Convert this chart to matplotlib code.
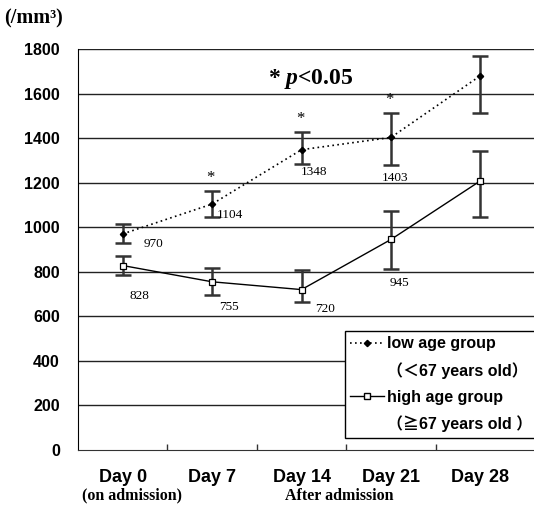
import numpy as np
import matplotlib.pyplot as plt
from matplotlib.lines import Line2D

plt.rcParams['mathtext.fontset'] = 'custom'
plt.rcParams['mathtext.it'] = 'Liberation Serif:bold:italic'
plt.rcParams['mathtext.rm'] = 'Liberation Serif:bold'

days = ['Day 0', 'Day 7', 'Day 14', 'Day 21', 'Day 28']
low_mean = [970, 1104, 1348, 1403, 1680]
low_err_lo = [42, 60, 65, 124, 168]
low_err_hi = [45, 57, 79, 108, 90]
high_mean = [828, 755, 720, 945, 1208]
high_err_lo = [43, 57, 54, 131, 160]
high_err_hi = [43, 60, 90, 130, 132]
low_labels = ['970', '1104', '1348', '1403', '']
high_labels = ['828', '755', '720', '945', '']
sig_days = [1, 2, 3]

x = np.arange(len(days))

fig = plt.figure(figsize=(5.34, 5.16), dpi=100)
ax = fig.add_axes([78 / 534, 1 - 450 / 516, 456 / 534, 401 / 516])

ax.set_ylim(0, 1800)
ax.set_xlim(-0.5, 4.6)
ax.set_yticks(range(0, 1801, 200))
for v in range(200, 1801, 200):
    ax.axhline(v, color='#222222', lw=1.0, zorder=1)

ax.errorbar(x, low_mean, yerr=[low_err_lo, low_err_hi], fmt='none', ecolor='#333333',
            elinewidth=1.8, capsize=6, capthick=1.8, zorder=2)
ax.errorbar(x, high_mean, yerr=[high_err_lo, high_err_hi], fmt='none', ecolor='#333333',
            elinewidth=1.8, capsize=6, capthick=1.8, zorder=2)
ax.plot(x, low_mean, color='black', ls=(0, (1, 2)), lw=1.2, marker='D', ms=3.2,
        mfc='black', mec='black', zorder=3)
ax.plot(x, high_mean, color='black', ls='-', lw=1.0, marker='s', ms=4.5,
        mfc='white', mec='black', mew=0.9, zorder=3)

# value labels (offsets in points)
low_off = [(22, -7), (13, -8), (9, -16), (3, -29), (0, 0)]
high_off = [(12, -22), (12, -18), (17, -14), (6, -31), (0, 0)]
for i in range(len(days)):
    if low_labels[i]:
        ax.annotate(low_labels[i], (x[i], low_mean[i]), xytext=low_off[i],
                    textcoords='offset points', ha='center', va='center',
                    fontsize=9.5, family='Liberation Serif')
    if high_labels[i]:
        ax.annotate(high_labels[i], (x[i], high_mean[i]), xytext=high_off[i],
                    textcoords='offset points', ha='center', va='center',
                    fontsize=9.5, family='Liberation Serif')
for i in sig_days:
    ax.annotate('*', (x[i], low_mean[i] + low_err_hi[i]), xytext=(-1, 4),
                textcoords='offset points', ha='center', va='bottom',
                fontsize=12, family='Liberation Serif')

ax.text(0.51, 0.925, '* $p$<0.05', transform=ax.transAxes, ha='center', va='center',
        fontsize=17, family='Liberation Serif', weight='bold')

ax.set_xticks(x)
ax.set_xticklabels(days, family='Liberation Sans', weight='bold', fontsize=13)
ax.set_xticks(x[:-1] + 0.5, minor=True)
ax.tick_params(axis='x', which='major', length=0, pad=14)
ax.tick_params(axis='x', which='minor', direction='in', length=4, width=1, color='#333333')
ax.tick_params(axis='y', length=0, pad=13)
for t in ax.get_yticklabels():
    t.set_family('Liberation Sans')
    t.set_weight('bold')
    t.set_fontsize(11.5)

for s in ['top', 'right']:
    ax.spines[s].set_visible(False)
ax.spines['left'].set_color('black')
ax.spines['bottom'].set_color('#333333')

fig.text(4 / 534, 1 - 18 / 516, '(/mm³)', ha='left', va='center', fontsize=14.5,
         family='Liberation Serif', weight='bold')
fig.text(132 / 534, 1 - 495 / 516, '(on admission)', ha='center', va='center',
         fontsize=11.5, family='Liberation Serif', weight='bold')
fig.text(339 / 534, 1 - 496 / 516, 'After admission', ha='center', va='center',
         fontsize=11.5, family='Liberation Serif', weight='bold')

blank = Line2D([], [], ls='none')
h_low = Line2D([], [], color='black', ls=(0, (1, 2)), lw=1.2, marker='D', ms=3.2, mfc='black')
h_high = Line2D([], [], color='black', ls='-', lw=1.0, marker='s', ms=4.5, mfc='white')
leg = ax.legend([h_low, blank, h_high, blank],
                ['low age group', '（＜67 years old）', 'high age group', '（≧67 years old ）'],
                loc='lower left', bbox_to_anchor=(0.585, 0.03),
                frameon=True, fancybox=False, edgecolor='black',
                framealpha=1, handlelength=2.1, handletextpad=0.2, borderpad=0.35,
                borderaxespad=0, labelspacing=0.68,
                prop={'family': ['Liberation Sans', 'Noto Sans CJK JP'],
                      'weight': 'bold', 'size': 11.5})
leg.get_frame().set_linewidth(1.0)

fig.savefig('out.png', dpi=100)
